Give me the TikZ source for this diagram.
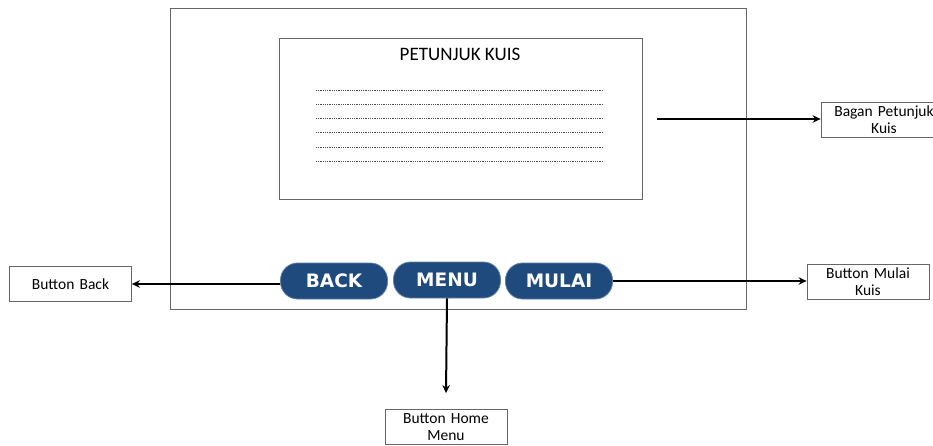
\documentclass[tikz,border=0pt]{standalone}
\usepackage{fontspec}
\setmainfont{Carlito}
\newfontfamily\btnfont{DejaVu Sans}
\usetikzlibrary{positioning,arrows.meta}
\definecolor{btnblue}{HTML}{1F4A7E}
\tikzset{
	label box/.style={draw=gray!80!black,line width=0.8pt,minimum width=122pt,minimum height=35pt,
		text width=118pt,align=center,font=\fontsize{15.5}{17}\selectfont,inner sep=1pt},
	pill/.style={fill=btnblue,draw=btnblue!70!white,line width=0.8pt,minimum width=107pt,minimum height=36pt,
		rounded corners=17pt,text=white,font=\btnfont\bfseries\fontsize{18.5}{20}\selectfont,inner sep=0pt},
	link/.style={-{Stealth[length=8pt,width=7.5pt]},line width=2pt},
	dots/.style={line width=0.9pt,dash pattern=on 0.6pt off 1.2pt,black!70}
}
\begin{document}
\begin{tikzpicture}[x=1pt,y=-1pt]
\useasboundingbox (0,0) rectangle (933,446);
\clip (0,0) rectangle (933,446);

%frame
\draw[gray!80!black,line width=0.8pt] (170,8) rectangle (746,309);
\draw[gray!80!black,line width=0.8pt] (279,38) rectangle (642,199);% petunjuk box
\node[font=\fontsize{19}{22}\selectfont] (judul) at (460,54) {PETUNJUK KUIS};

\foreach \y in {90,104,118,132,147,161}
	\draw[dots] (316,\y) -- (604,\y);

%buttons
\node[pill] (back) at (334,281) {BACK};
\node[pill] (menu) at (447,280) {MENU};
\node[pill] (mulai) at (559,281) {MULAI};

%keterangan
\node[label box] (kback) at (70.5,284) {Button Back};
\node[label box] (kmulai) at (868,282) {Button Mulai\\Kuis};
\node[label box,minimum width=126pt,text width=124pt] (kbagan) at (884,120) {Bagan Petunjuk\\Kuis};
\node[label box] (khome) at (446,427) {Button Home\\Menu};

\coordinate (bagan) at (657,119);

\draw[link] (back.west |- kback.east) -- (kback.east);
\draw[link] (mulai.east) -- (kmulai.west |- mulai.east);
\draw[link] (bagan) -- (kbagan.west |- bagan);
\draw[link] (menu.south) -- ([yshift=16pt]khome.north);

\end{tikzpicture}
\end{document}
